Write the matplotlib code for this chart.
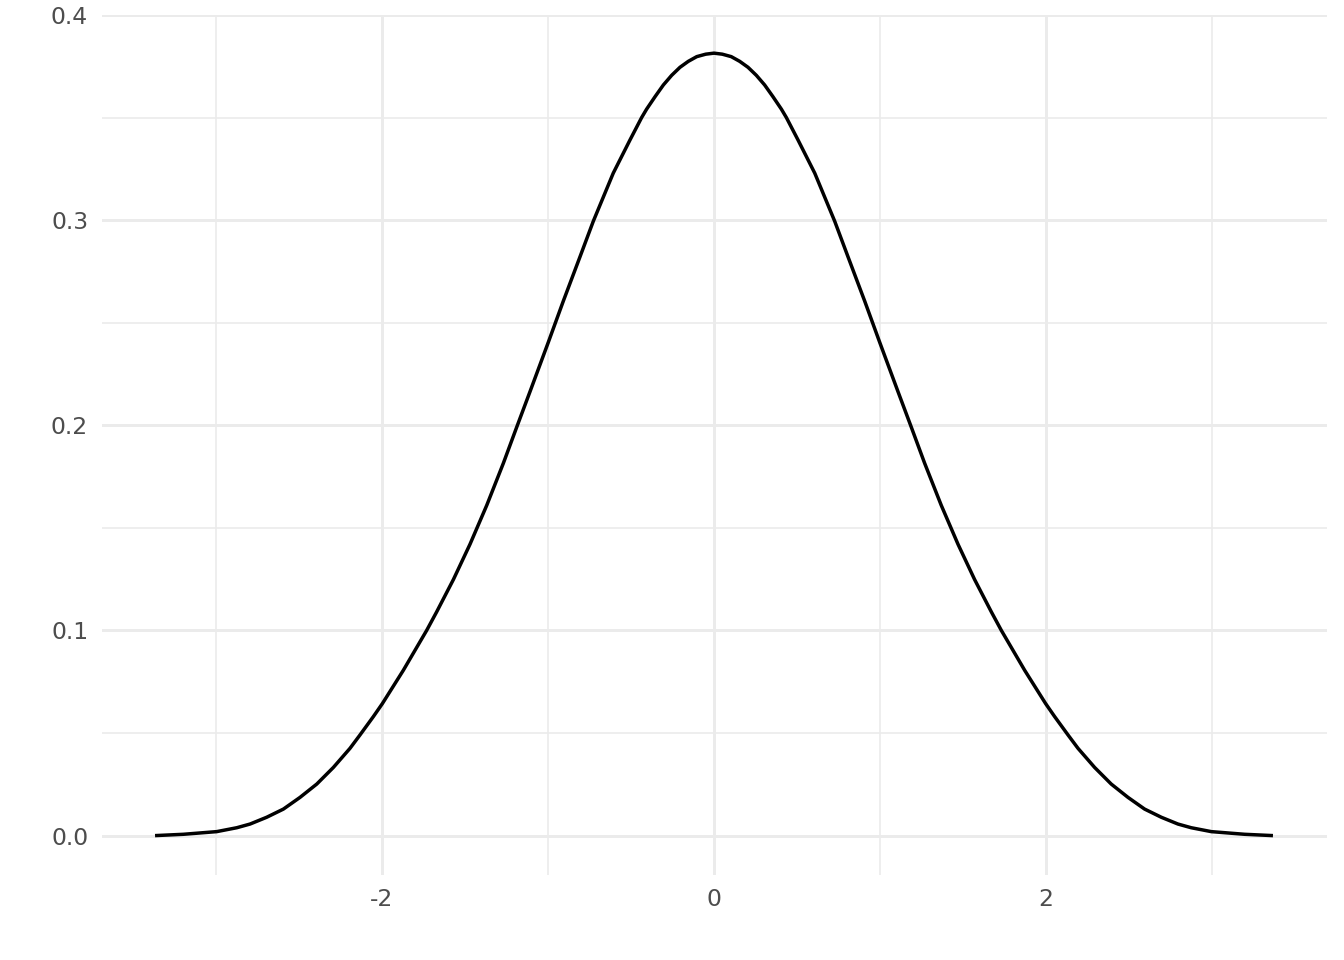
import matplotlib.pyplot as plt

# density curve (left half, then right half)
x_left = [-3.357, -3.197, -2.996, -2.875, -2.795, -2.695, -2.594, -2.494, -2.393, -2.293,
          -2.193, -2.133, -2.052, -1.998, -1.872, -1.731, -1.671, -1.570, -1.470, -1.369,
          -1.269, -1.189, -1.108, -0.998, -0.908, -0.807, -0.727, -0.607, -0.506, -0.436,
          -0.406, -0.355, -0.305, -0.255, -0.205, -0.155, -0.104, -0.050, 0.000]
y_left = [0.0000, 0.0006, 0.0019, 0.0038, 0.0056, 0.0089, 0.0129, 0.0186, 0.0251, 0.0332,
          0.0425, 0.0490, 0.0580, 0.0643, 0.0805, 0.1000, 0.1090, 0.1248, 0.1420, 0.1610,
          0.1815, 0.1990, 0.2165, 0.2405, 0.2605, 0.2822, 0.2995, 0.3229, 0.3391, 0.3500,
          0.3541, 0.3602, 0.3659, 0.3706, 0.3745, 0.3774, 0.3797, 0.3809, 0.3814]
x_right = [0.050, 0.104, 0.155, 0.205, 0.255, 0.305, 0.355, 0.406, 0.436, 0.506, 0.607,
           0.727, 0.807, 0.908, 0.998, 1.108, 1.189, 1.269, 1.369, 1.470, 1.570, 1.671,
           1.731, 1.872, 1.998, 2.052, 2.133, 2.193, 2.293, 2.393, 2.494, 2.594, 2.695,
           2.795, 2.875, 2.996, 3.197, 3.357]
y_right = [0.3809, 0.3797, 0.3774, 0.3745, 0.3706, 0.3659, 0.3602, 0.3541, 0.3500, 0.3391,
           0.3229, 0.2995, 0.2822, 0.2605, 0.2405, 0.2165, 0.1990, 0.1815, 0.1610, 0.1420,
           0.1248, 0.1090, 0.1000, 0.0805, 0.0643, 0.0580, 0.0490, 0.0425, 0.0332, 0.0251,
           0.0186, 0.0129, 0.0089, 0.0056, 0.0038, 0.0019, 0.0006, 0.0000]

x_major = [-2, 0, 2]
x_major_labels = ["-2", "0", "2"]
x_minor = [-3, -1, 1, 3]
y_major = [0.0, 0.1, 0.2, 0.3, 0.4]
y_major_labels = ["0.0", "0.1", "0.2", "0.3", "0.4"]
y_minor = [0.05, 0.15, 0.25, 0.35]

plt.rcParams["axes.unicode_minus"] = False
plt.rcParams["font.family"] = "DejaVu Sans"

fig = plt.figure(figsize=(7, 5), dpi=192)
ax = fig.add_axes([101.5 / 1344, 1 - 874.5 / 960, 1225 / 1344, 859.5 / 960])

ax.plot(x_left + x_right, y_left + y_right, color="black", linewidth=1.3,
        solid_joinstyle="round", zorder=3)

ax.set_xlim(-3.69, 3.69)
ax.set_ylim(-0.019, 0.4)

ax.set_xticks(x_major)
ax.set_xticklabels(x_major_labels)
ax.set_xticks(x_minor, minor=True)
ax.set_yticks(y_major)
ax.set_yticklabels(y_major_labels)
ax.set_yticks(y_minor, minor=True)

ax.grid(which="major", color="#EBEBEB", linewidth=1.1)
ax.grid(which="minor", color="#EBEBEB", linewidth=0.6)
ax.set_axisbelow(True)

ax.tick_params(which="both", length=0, labelsize=8.8, labelcolor="#4D4D4D")
ax.tick_params(axis="y", pad=5.0)
ax.tick_params(axis="x", pad=5.0)
for side in ax.spines.values():
    side.set_visible(False)

fig.savefig("out.png", dpi=192, facecolor="white")
